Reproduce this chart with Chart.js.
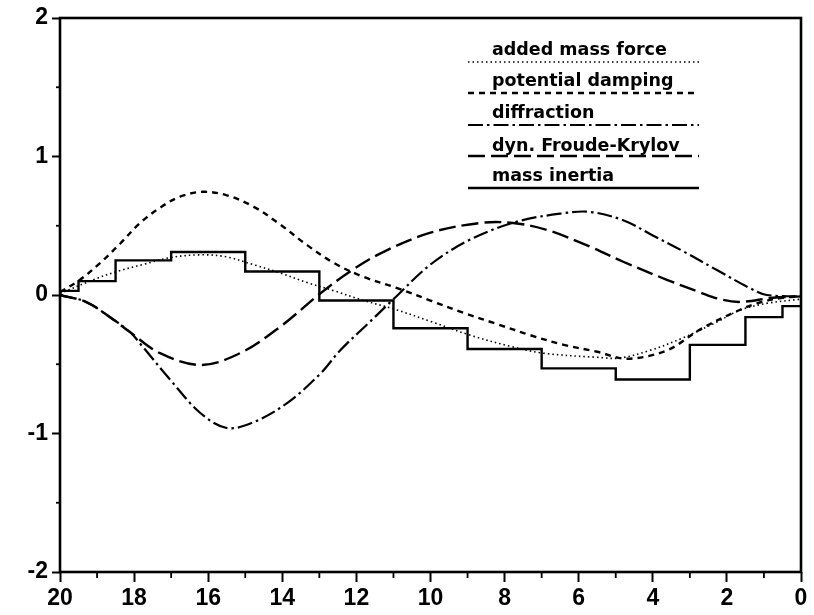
<!DOCTYPE html>
<html>
<head>
<meta charset="utf-8">
<script src="https://cdn.jsdelivr.net/npm/chart.js@4.4.1/dist/chart.umd.min.js"></script>
<style>
  html, body { margin: 0; padding: 0; background: #fff; }
  #wrap { width: 814px; height: 615px; }
</style>
</head>
<body>
<div id="wrap"><canvas id="c" width="814" height="615"></canvas></div>
<script>
// ---- data ----
const xTicks = [20, 18, 16, 14, 12, 10, 8, 6, 4, 2, 0];
const yTicks = [2, 1, 0, -1, -2];

const seriesNames = ["added mass force", "potential damping", "diffraction", "dyn. Froude-Krylov", "mass inertia"];

const addedMassX = [20, 19.1, 18.46, 17.76, 17.03, 16.2, 15.5, 14.79, 14.06, 13.33, 12.6, 11.8, 11.0, 10.0, 8.93, 7.85, 6.96, 5.5, 4.89, 4.08, 3.19, 2.27, 1.65, 0.92, 0];
const addedMassY = [0.01, 0.11, 0.17, 0.22, 0.27, 0.29, 0.275, 0.22, 0.16, 0.09, 0.03, -0.04, -0.10, -0.19, -0.29, -0.37, -0.42, -0.45, -0.455, -0.40, -0.31, -0.195, -0.11, -0.06, -0.03];

const dampingX = [20, 19.46, 18.92, 18.38, 17.84, 17.3, 16.76, 16.14, 15.5, 14.79, 14.06, 13.33, 12.6, 11.8, 10.9, 10.0, 9.1, 8.2, 7.31, 6.4, 5.5, 4.7, 3.62, 2.73, 1.84, 1.19, 0.5, 0];
const dampingY = [0.02, 0.11, 0.23, 0.37, 0.52, 0.63, 0.71, 0.745, 0.72, 0.64, 0.51, 0.36, 0.23, 0.13, 0.05, -0.04, -0.13, -0.21, -0.29, -0.36, -0.41, -0.46, -0.40, -0.25, -0.13, -0.06, -0.02, -0.01];

const diffractionX = [20, 19.3, 18.65, 18.1, 17.84, 17.03, 16.22, 15.5, 14.79, 13.87, 12.98, 12.44, 11.7, 11.0, 10.0, 8.93, 7.66, 6.42, 5.7, 4.8, 4.0, 3.21, 2.27, 1.38, 0.92, 0];
const diffractionY = [0, -0.05, -0.16, -0.27, -0.35, -0.61, -0.85, -0.96, -0.92, -0.78, -0.57, -0.40, -0.21, -0.03, 0.22, 0.40, 0.53, 0.59, 0.60, 0.54, 0.43, 0.32, 0.18, 0.05, 0.0, -0.01];

const froudeX = [20, 19.3, 18.65, 18.1, 17.3, 16.2, 15.14, 14.06, 12.98, 12.17, 11.28, 10.0, 8.66, 7.77, 6.86, 5.7, 4.8, 3.62, 2.73, 2.19, 1.65, 0.76, 0];
const froudeY = [0, -0.05, -0.16, -0.27, -0.42, -0.505, -0.42, -0.23, 0.01, 0.17, 0.31, 0.45, 0.52, 0.52, 0.47, 0.35, 0.24, 0.11, 0.02, -0.03, -0.05, -0.02, -0.01];

const inertiaX = [20, 19.5, 18.5, 17, 15, 13, 11, 9, 7, 5, 3, 1.5, 0.5, 0];
const inertiaY = [0.03, 0.10, 0.25, 0.31, 0.17, -0.04, -0.24, -0.39, -0.53, -0.61, -0.36, -0.16, -0.08, -0.08];

// ---- build ----
function pts(xs, ys) { return xs.map((x, i) => ({ x: x, y: ys[i] })); }

const FONT = "'Liberation Sans', Arial, sans-serif";

const styles = [
  { dash: [1.5, 3], width: 1.6 },
  { dash: [6, 5], width: 2.4 },
  { dash: [15, 4, 2.5, 4], width: 2.2 },
  { dash: [17, 6], width: 2.4 },
  { dash: [], width: 2.4 }
];
const xsAll = [addedMassX, dampingX, diffractionX, froudeX, inertiaX];
const ysAll = [addedMassY, dampingY, diffractionY, froudeY, inertiaY];

const datasets = seriesNames.map((name, i) => ({
  label: name,
  data: pts(xsAll[i], ysAll[i]),
  showLine: true,
  borderColor: '#000',
  backgroundColor: '#000',
  borderWidth: styles[i].width,
  borderDash: styles[i].dash,
  pointRadius: 0,
  fill: false,
  tension: i === 4 ? 0 : 0.35,
  stepped: i === 4 ? 'before' : false
}));

const framePlugin = {
  id: 'frame',
  afterDraw(chart) {
    const ctx = chart.ctx, a = chart.chartArea;
    const xs = chart.scales.x, ys = chart.scales.y;
    ctx.save();
    ctx.strokeStyle = '#000';
    ctx.setLineDash([]);
    ctx.lineWidth = 2.6;
    ctx.strokeRect(a.left, a.top, a.right - a.left, a.bottom - a.top);
    // minor ticks
    ctx.lineWidth = 1.8;
    for (let v = 1; v < 20; v += 2) {
      const px = xs.getPixelForValue(v);
      ctx.beginPath(); ctx.moveTo(px, a.bottom); ctx.lineTo(px, a.bottom + 6); ctx.stroke();
    }
    [1.5, 0.5, -0.5, -1.5].forEach(v => {
      const py = ys.getPixelForValue(v);
      ctx.beginPath(); ctx.moveTo(a.left, py); ctx.lineTo(a.left - 4, py); ctx.stroke();
    });
    // legend
    ctx.font = "bold 17.5px 'DejaVu Sans', sans-serif";
    ctx.fillStyle = '#000';
    ctx.textBaseline = 'middle';
    ctx.textAlign = 'left';
    const textX = 492, lineX0 = 468, lineX1 = 699;
    const textY = [50, 81, 113, 146, 176];
    const lineY = [62, 93, 125, 156, 188];
    chart.data.datasets.forEach((ds, i) => {
      ctx.fillText(ds.label, textX, textY[i]);
      ctx.save();
      ctx.lineWidth = ds.borderWidth;
      ctx.setLineDash(ds.borderDash || []);
      ctx.beginPath(); ctx.moveTo(lineX0, lineY[i]); ctx.lineTo(lineX1, lineY[i]); ctx.stroke();
      ctx.restore();
    });
    ctx.restore();
  }
};

new Chart(document.getElementById('c'), {
  type: 'scatter',
  data: { datasets: datasets },
  options: {
    responsive: false,
    animation: false,
    layout: { padding: { left: 0, right: 13, top: 18, bottom: 0 } },
    plugins: { legend: { display: false }, tooltip: { enabled: false } },
    scales: {
      x: {
        type: 'linear', reverse: true, min: 0, max: 20,
        afterBuildTicks: s => { s.ticks = xTicks.map(v => ({ value: v })); },
        afterFit: s => { s.height = 43; },
        border: { display: false },
        grid: { drawOnChartArea: false, drawTicks: true, tickLength: 10, tickWidth: 2, tickColor: '#000' },
        ticks: { color: '#000', padding: 3, maxRotation: 0, autoSkip: false,
                 font: { family: FONT, size: 23, weight: 'bold' } }
      },
      y: {
        type: 'linear', min: -2, max: 2,
        afterBuildTicks: s => { s.ticks = yTicks.map(v => ({ value: v })); },
        afterFit: s => { s.width = 60; },
        border: { display: false },
        grid: { drawOnChartArea: false, drawTicks: true, tickLength: 8, tickWidth: 2, tickColor: '#000' },
        ticks: { color: '#000', padding: 4,
                 font: { family: FONT, size: 23, weight: 'bold' } }
      }
    }
  },
  plugins: [framePlugin]
});
</script>
</body>
</html>
